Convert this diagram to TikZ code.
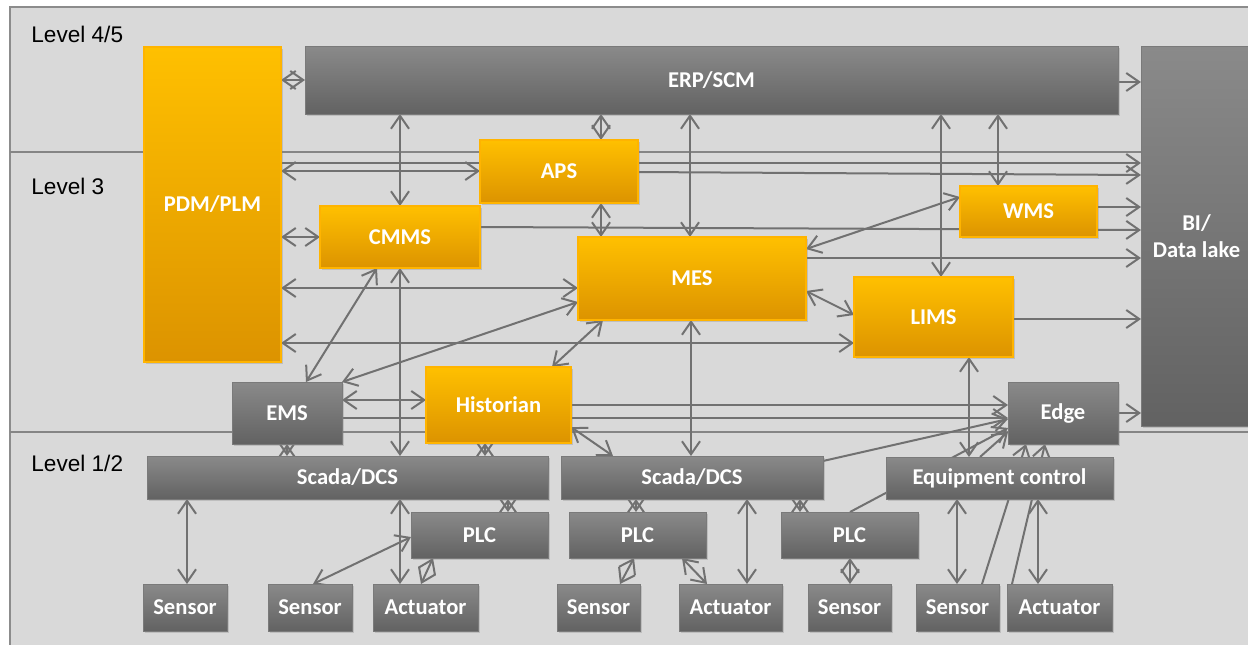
\documentclass[tikz,border=0pt]{standalone}
\usepackage{fontspec}
\setmainfont{Liberation Sans}
\newfontfamily\boxfont{Carlito}
\usetikzlibrary{arrows.meta,shadows,calc}

\definecolor{bgc}{HTML}{D9D9D9}
\definecolor{framec}{HTML}{8C8C8C}
\definecolor{sepc}{HTML}{858585}
\definecolor{linec}{HTML}{717171}
\definecolor{gtop}{HTML}{8A8A8A}
\definecolor{gbot}{HTML}{626262}
\definecolor{gedge}{HTML}{7A7A7A}
\definecolor{otop}{HTML}{FFC000}
\definecolor{obot}{HTML}{DC9300}
\definecolor{oedge}{HTML}{FFB400}

\pgfdeclarelayer{bg}
\pgfdeclarelayer{links}
\pgfsetlayers{bg,links,main}

% box from its corners (x1,y1,x2,y2) in pixel units
\newcommand\mkbox[7]{\node[#1, minimum width={(#4-#2)*0.5pt}, minimum height={(#5-#3)*0.5pt}] (#6) at ({(#2+#4)/2},{(#3+#5)/2}) {#7};}

\begin{document}
\begin{tikzpicture}[x=0.5pt, y=-0.5pt,
  box/.style={rectangle, inner sep=1pt, outer sep=0pt, text=white, align=center,
    font=\boxfont\bfseries\fontsize{11.3}{13.5}\selectfont,
    drop shadow={shadow xshift=1pt, shadow yshift=-1pt, opacity=0.3}},
  gbox/.style={box, top color=gtop, bottom color=gbot, draw=gedge, line width=0.4pt},
  obox/.style={box, top color=otop, bottom color=obot, draw=oedge, line width=0.8pt},
  level/.style={anchor=base west, inner sep=0pt, font=\fontsize{11.3}{13.5}\selectfont, text=black},
  link/.style={draw=linec, line width=1pt},
  >={Straight Barb[length=6.5pt,width=9pt]}]

\useasboundingbox (0,0) rectangle (1248,644);

\begin{pgfonlayer}{bg}
  \fill[white] (0,0) rectangle (1248,644);
  \draw[fill=bgc, draw=framec, line width=0.7pt] (10,7) rectangle (1264,664);
  \draw[sepc, line width=0.8pt] (10,152) -- (1141,152);
  \draw[sepc, line width=0.8pt] (10,432) -- (1260,432);
\end{pgfonlayer}

% level labels
\node[level] (l45) at (31,42) {Level 4/5};
\node[level] (l3) at (31,194) {Level 3};
\node[level] (l12) at (31,471) {Level 1/2};

% level 3 / 4 applications
\mkbox{obox}{144}{47}{281}{362}{pdm}{PDM/PLM}
\mkbox{obox}{480}{140}{638}{203}{aps}{APS}
\mkbox{obox}{320}{206}{480}{268}{cmms}{CMMS}
\mkbox{obox}{578}{237}{806}{320}{mes}{MES}
\mkbox{obox}{960}{186}{1097}{237}{wms}{WMS}
\mkbox{obox}{854}{277}{1013}{357}{lims}{LIMS}
\mkbox{obox}{426}{367}{571}{443}{hist}{Historian}

\mkbox{gbox}{305}{46}{1118}{114}{erp}{ERP/SCM}
\mkbox{gbox}{1141}{46}{1252}{426}{bi}{BI/\\Data lake}
\mkbox{gbox}{232}{382}{342}{444}{ems}{EMS}
\mkbox{gbox}{1008}{382}{1118}{444}{edge}{Edge}

% level 1/2 control
\mkbox{gbox}{147}{456}{548}{499}{scada1}{Scada/DCS}
\mkbox{gbox}{561}{456}{823}{499}{scada2}{Scada/DCS}
\mkbox{gbox}{886}{457}{1113}{499}{eqc}{Equipment control}
\mkbox{gbox}{411}{512}{548}{558}{plc1}{PLC}
\mkbox{gbox}{569}{512}{706}{558}{plc2}{PLC}
\mkbox{gbox}{781}{512}{918}{558}{plc3}{PLC}
\mkbox{gbox}{143}{584}{227}{631}{sen1}{Sensor}
\mkbox{gbox}{268}{584}{352}{631}{sen2}{Sensor}
\mkbox{gbox}{373}{584}{478}{631}{act1}{Actuator}
\mkbox{gbox}{557}{584}{640}{631}{sen3}{Sensor}
\mkbox{gbox}{679}{584}{782}{631}{act2}{Actuator}
\mkbox{gbox}{808}{584}{891}{631}{sen4}{Sensor}
\mkbox{gbox}{916}{584}{999}{631}{sen5}{Sensor}
\mkbox{gbox}{1007}{584}{1112}{631}{act3}{Actuator}

\begin{pgfonlayer}{links}
  % ERP/SCM
  \draw[link,<->] (pdm.east |- 0,80) -- (erp.west |- 0,80);
  \draw[link,<->] (400,0 |- erp.south) -- (400,0 |- cmms.north);
  \draw[link,<->] (601,0 |- erp.south) -- (601,0 |- aps.north);
  \draw[link,<->] (690,0 |- erp.south) -- (690,0 |- mes.north);
  \draw[link,<->] (941,0 |- erp.south) -- (941,0 |- lims.north);
  \draw[link,<->] (998,0 |- erp.south) -- (998,0 |- wms.north);
  \draw[link,->] (erp.east |- 0,82) -- (bi.west |- 0,82);
  % PDM/PLM
  \draw[link,->] (pdm.east |- 0,163) -- (bi.west |- 0,163);
  \draw[link,<->] (pdm.east |- 0,171) -- (aps.west |- 0,171);
  \draw[link,<->] (pdm.east |- 0,237) -- (cmms.west |- 0,237);
  \draw[link,<->] (pdm.east |- 0,288) -- (mes.west |- 0,288);
  \draw[link,<->] (pdm.east |- 0,343) -- (lims.west |- 0,343);
  % level 3 to BI
  \draw[link,->] (aps.east |- 0,172) -- (bi.west |- 0,175);
  \draw[link,->] (cmms.east |- 0,227) -- (bi.west |- 0,230);
  \draw[link,->] (mes.east |- 0,258) -- (bi.west |- 0,258);
  \draw[link,->] (wms.east |- 0,207) -- (bi.west |- 0,207);
  \draw[link,->] (lims.east |- 0,319) -- (bi.west |- 0,319);
  \draw[link,->] (edge.east |- 0,413) -- (bi.west |- 0,413);
  % level 3 cross links
  \draw[link,<->] (601,0 |- aps.south) -- (601,0 |- mes.north);
  \draw[link,<->] (mes.east |- 0,249) -- (wms.west |- 0,197);
  \draw[link,<->] (mes.east |- 0,291) -- (lims.west |- 0,315);
  \draw[link,<->] (377,0 |- cmms.south) -- (306,0 |- ems.north);
  \draw[link,<->] (400,0 |- cmms.south) -- (400,0 |- scada1.north);
  \draw[link,<->] (ems.north east) -- (mes.west |- 0,302);
  \draw[link,<->] (603,0 |- mes.south) -- (552,0 |- hist.north);
  \draw[link,<->] (ems.east |- 0,400) -- (hist.west |- 0,400);
  \draw[link,->] (ems.east |- 0,418) -- (edge.west |- 0,418);
  \draw[link,->] (hist.east |- 0,405) -- (edge.west |- 0,405);
  \draw[link,<->] (691,0 |- mes.south) -- (691,0 |- scada2.north);
  \draw[link,<->] (969,0 |- lims.south) -- (969,0 |- eqc.north);
  % historian / EMS to control level
  \draw[link,<->] (hist.east |- 0,427) -- (613,0 |- scada2.north);
  \draw[link,<->] (485,0 |- hist.south) -- (485,0 |- scada1.north);
  \draw[link,<->] (287,0 |- ems.south) -- (287,0 |- scada1.north);
  % control level
  \draw[link,<->] (508,0 |- scada1.south) -- (508,0 |- plc1.north);
  \draw[link,<->] (636,0 |- scada2.south) -- (636,0 |- plc2.north);
  \draw[link,<->] (800,0 |- scada2.south) -- (800,0 |- plc3.north);
  \draw[link,<->] (187,0 |- scada1.south) -- (187,0 |- sen1.north);
  \draw[link,<->] (400,0 |- scada1.south) -- (400,0 |- act1.north);
  \draw[link,<->] (747,0 |- scada2.south) -- (747,0 |- act2.north);
  \draw[link,<->] (plc1.west |- 0,537) -- (313,0 |- sen2.north);
  \draw[link,<->] (433,0 |- plc1.south) -- (421,0 |- act1.north);
  \draw[link,<->] (634,0 |- plc2.south) -- (620,0 |- sen3.north);
  \draw[link,<->] (682,0 |- plc2.south) -- (707,0 |- act2.north);
  \draw[link,<->] (850,0 |- plc3.south) -- (850,0 |- sen4.north);
  \draw[link,<->] (957,0 |- eqc.south) -- (957,0 |- sen5.north);
  \draw[link,<->] (1038,0 |- eqc.south) -- (1038,0 |- act3.north);
  % into Edge
  \draw[link,->] (scada2.east |- 0,461) -- (edge.west |- 0,419);
  \draw[link,->] (850,0 |- plc3.north) -- (edge.west |- 0,428);
  \draw[link,->] (980,0 |- eqc.north) -- (edge.west |- 0,432);
  \draw[link,->] (982,0 |- sen5.north) -- (1026,0 |- edge.south);
  \draw[link,->] (1012,0 |- act3.north) -- (1045,0 |- edge.south);
\end{pgfonlayer}
\end{tikzpicture}
\end{document}
